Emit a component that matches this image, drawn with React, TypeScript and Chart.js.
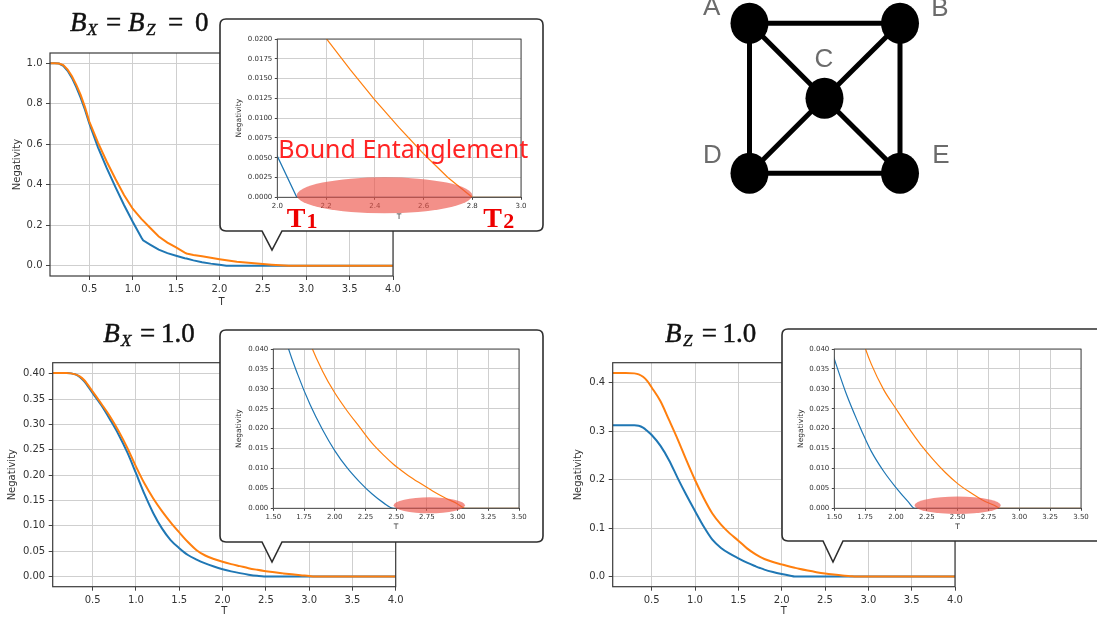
import React, { useEffect, useRef } from "react";
import { Chart, registerables } from "chart.js";

Chart.register(...registerables);

// ---------------- data ----------------
// Panel 1: B_X = B_Z = 0
const T_P1 = [0.05, 0.1, 0.15, 0.2, 0.25, 0.3, 0.35, 0.4, 0.45, 0.5, 0.6, 0.7, 0.8, 0.9, 1.0, 1.1, 1.12, 1.2, 1.3, 1.4, 1.5, 1.6, 1.62, 1.7, 1.8, 1.9, 2.0, 2.08, 2.1, 2.2, 2.3, 2.4, 2.5, 2.6, 2.7, 2.8, 2.9, 3.0, 3.5, 4.0];
const BLUE_P1 = [1.0, 1.0, 0.998, 0.987, 0.962, 0.927, 0.882, 0.83, 0.77, 0.702, 0.585, 0.483, 0.39, 0.3, 0.218, 0.14, 0.126, 0.105, 0.08, 0.063, 0.05, 0.038, 0.036, 0.027, 0.018, 0.011, 0.0052, 0, 0, 0, 0, 0, 0, 0, 0, 0, 0, 0, 0, 0];
const ORANGE_P1 = [1.0, 1.0, 0.998, 0.99, 0.968, 0.935, 0.893, 0.843, 0.783, 0.712, 0.608, 0.515, 0.43, 0.35, 0.282, 0.232, 0.223, 0.188, 0.145, 0.115, 0.091, 0.065, 0.061, 0.054, 0.047, 0.04, 0.033, 0.0278, 0.0265, 0.0201, 0.0161, 0.0123, 0.0088, 0.0055, 0.0025, 0, 0, 0, 0, 0];

// Panel 2: B_X = 1.0
const T_P2 = [0.04, 0.1, 0.2, 0.3, 0.35, 0.4, 0.5, 0.6, 0.7, 0.8, 0.9, 1.0, 1.1, 1.2, 1.3, 1.4, 1.5, 1.6, 1.7, 1.8, 1.9, 2.0, 2.1, 2.2, 2.3, 2.4, 2.48, 2.5, 2.6, 2.7, 2.8, 2.9, 3.0, 3.06, 3.2, 3.5, 4.0];
const BLUE_P2 = [0.402, 0.402, 0.402, 0.399, 0.394, 0.386, 0.362, 0.338, 0.31, 0.28, 0.245, 0.204, 0.162, 0.125, 0.095, 0.072, 0.056, 0.0425, 0.0335, 0.026, 0.0198, 0.0145, 0.0102, 0.0067, 0.0037, 0.0013, 0, 0, 0, 0, 0, 0, 0, 0, 0, 0, 0];
const ORANGE_P2 = [0.402, 0.402, 0.402, 0.399, 0.395, 0.388, 0.365, 0.341, 0.316, 0.287, 0.254, 0.217, 0.183, 0.154, 0.129, 0.107, 0.087, 0.068, 0.052, 0.0415, 0.0345, 0.029, 0.0245, 0.0205, 0.0165, 0.0133, 0.011, 0.0105, 0.0082, 0.0062, 0.0043, 0.0026, 0.0011, 0, 0, 0, 0];

// Panel 3: B_Z = 1.0
const T_P3 = [0.05, 0.1, 0.2, 0.3, 0.35, 0.4, 0.45, 0.5, 0.6, 0.7, 0.8, 0.9, 1.0, 1.1, 1.2, 1.3, 1.4, 1.5, 1.6, 1.7, 1.75, 1.8, 1.9, 2.0, 2.1, 2.15, 2.2, 2.3, 2.4, 2.5, 2.6, 2.7, 2.8, 2.85, 3.0, 3.5, 4.0];
const BLUE_P3 = [0.312, 0.312, 0.312, 0.312, 0.311, 0.307, 0.3, 0.292, 0.27, 0.24, 0.203, 0.168, 0.135, 0.103, 0.076, 0.059, 0.047, 0.0375, 0.0285, 0.021, 0.0175, 0.0143, 0.0093, 0.0052, 0.0016, 0, 0, 0, 0, 0, 0, 0, 0, 0, 0, 0, 0];
const ORANGE_P3 = [0.42, 0.42, 0.42, 0.419, 0.417, 0.412, 0.403, 0.39, 0.362, 0.323, 0.283, 0.24, 0.199, 0.162, 0.13, 0.107, 0.089, 0.074, 0.058, 0.0455, 0.0403, 0.0362, 0.0298, 0.025, 0.0203, 0.0181, 0.016, 0.0123, 0.009, 0.0062, 0.004, 0.0021, 0.0007, 0, 0, 0, 0];

// ticks
const MAIN_X_TICKS = [0.5, 1.0, 1.5, 2.0, 2.5, 3.0, 3.5, 4.0];
const P1_Y_TICKS = [0, 0.2, 0.4, 0.6, 0.8, 1.0];
const P2_Y_TICKS = [0, 0.05, 0.1, 0.15, 0.2, 0.25, 0.3, 0.35, 0.4];
const P3_Y_TICKS = [0, 0.1, 0.2, 0.3, 0.4];
const INSET1_X_TICKS = [2.0, 2.2, 2.4, 2.6, 2.8, 3.0];
const INSET1_Y_TICKS = [0, 0.0025, 0.005, 0.0075, 0.01, 0.0125, 0.015, 0.0175, 0.02];
const INSET23_X_TICKS = [1.5, 1.75, 2.0, 2.25, 2.5, 2.75, 3.0, 3.25, 3.5];
const INSET23_Y_TICKS = [0, 0.005, 0.01, 0.015, 0.02, 0.025, 0.03, 0.035, 0.04];

// bound entanglement range (T1 -> T2) per panel
const T1_VALUES = [2.08, 2.48, 2.15];
const T2_VALUES = [2.8, 3.06, 2.85];

const BLUE = "#1f77b4";
const ORANGE = "#ff7f0e";
const TEXT = "#333333";
const GRID = "#cfcfcf";

type Spec = {
  canvas: { left: number; top: number; width: number; height: number };
  area: { l: number; t: number; r: number; b: number };
  T: number[];
  blue: number[];
  orange: number[];
  xMin: number; xMax: number; yMin: number; yMax: number;
  xTicks: number[]; yTicks: number[]; xDec: number; yDec: number;
  tickSize: number; titleSize: number;
  yTitlePad: number; xTitlePad: number;
  tickLen: number; tickPad: number; lw: number; mono: boolean;
  ellipse?: { t1: number; t2: number; ry: number; dy: number };
};

const framePlugin = (w: number) => ({
  id: "frame",
  afterDatasetsDraw(chart: any) {
    const { ctx, chartArea } = chart;
    ctx.save();
    ctx.strokeStyle = "#3a3a3a";
    ctx.lineWidth = w;
    ctx.strokeRect(chartArea.left, chartArea.top, chartArea.right - chartArea.left, chartArea.bottom - chartArea.top);
    ctx.restore();
  },
});

const ellipsePlugin = (e: { t1: number; t2: number; ry: number; dy: number }) => ({
  id: "bound",
  afterDraw(chart: any) {
    const { ctx } = chart;
    const xs = chart.scales.x;
    const ys = chart.scales.y;
    const x1 = xs.getPixelForValue(e.t1);
    const x2 = xs.getPixelForValue(e.t2);
    const cy = ys.getPixelForValue(0) + e.dy;
    ctx.save();
    ctx.beginPath();
    ctx.ellipse((x1 + x2) / 2, cy, (x2 - x1) / 2, e.ry, 0, 0, Math.PI * 2);
    ctx.fillStyle = "rgba(236, 82, 70, 0.64)";
    ctx.fill();
    ctx.restore();
  },
});

function Panel({ spec }: { spec: Spec }) {
  const ref = useRef<HTMLCanvasElement>(null);
  const c = spec.canvas;
  useEffect(() => {
    const s = spec;
    const yW = s.area.l - c.left;
    const xH = c.top + c.height - s.area.b;
    const font = (size: number) => ({ family: "'DejaVu Sans', sans-serif", size, lineHeight: 1.2 });
    const plugins: any[] = [framePlugin(s.lw > 1.5 ? 1.2 : 0.9)];
    if (s.ellipse) plugins.push(ellipsePlugin(s.ellipse));
    const mk = (vals: number[], color: string) => ({
      data: s.T.map((t, i) => ({ x: t, y: vals[i] })),
      borderColor: color,
      backgroundColor: color,
      borderWidth: s.lw,
      pointRadius: 0,
      fill: false,
      tension: 0,
      cubicInterpolationMode: s.mono ? "monotone" : "default",
    });
    const chart = new Chart(ref.current as HTMLCanvasElement, {
      type: "line",
      data: { datasets: [mk(s.orange, ORANGE), mk(s.blue, BLUE)] as any },
      options: {
        responsive: false,
        animation: false,
        events: [],
        layout: { padding: { left: 0, top: s.area.t - c.top, right: c.left + c.width - s.area.r, bottom: 0 } },
        plugins: { legend: { display: false }, tooltip: { enabled: false } },
        scales: {
          x: {
            type: "linear",
            position: "bottom",
            min: s.xMin,
            max: s.xMax,
            afterBuildTicks: (sc: any) => { sc.ticks = s.xTicks.map((v) => ({ value: v })); },
            afterFit: (sc: any) => { sc.height = xH; },
            ticks: {
              autoSkip: false,
              maxRotation: 0,
              font: font(s.tickSize),
              color: TEXT,
              padding: s.tickPad,
              callback: (v: any) => Number(v).toFixed(s.xDec),
            },
            grid: { color: GRID, lineWidth: 1, tickLength: s.tickLen, tickColor: "#444", drawTicks: true },
            border: { display: false },
            title: { display: true, text: "T", font: font(s.titleSize), color: TEXT, padding: { top: 0, bottom: s.xTitlePad } },
          },
          y: {
            type: "linear",
            position: "left",
            min: s.yMin,
            max: s.yMax,
            afterBuildTicks: (sc: any) => { sc.ticks = s.yTicks.map((v) => ({ value: v })); },
            afterFit: (sc: any) => { sc.width = yW; },
            ticks: {
              autoSkip: false,
              font: font(s.tickSize),
              color: TEXT,
              padding: s.tickPad,
              callback: (v: any) => Number(v).toFixed(s.yDec),
            },
            grid: { color: GRID, lineWidth: 1, tickLength: s.tickLen, tickColor: "#444", drawTicks: true },
            border: { display: false },
            title: { display: true, text: "Negativity", font: font(s.titleSize), color: TEXT, padding: { top: s.yTitlePad, bottom: 0 } },
          },
        },
      } as any,
      plugins,
    });
    return () => chart.destroy();
  }, []);
  return (
    <canvas
      ref={ref}
      width={c.width}
      height={c.height}
      style={{ position: "absolute", left: c.left, top: c.top, width: c.width, height: c.height }}
    />
  );
}

const MAIN_COMMON = { xTicks: MAIN_X_TICKS, xDec: 1, xMax: 4.0, tickSize: 10, titleSize: 10, tickLen: 4, tickPad: 3.5, lw: 2, xTitlePad: 0.3 };
const INSET_COMMON = { tickSize: 7, titleSize: 7.5, tickLen: 2.5, tickPad: 2.5, lw: 1.2 };

const MAIN1: Spec = {
  ...MAIN_COMMON,
  canvas: { left: 0, top: 40, width: 420, height: 275 },
  area: { l: 50, t: 53, r: 393, b: 276 },
  T: T_P1, blue: BLUE_P1, orange: ORANGE_P1,
  xMin: 0.047, yMin: -0.05, yMax: 1.05,
  yTicks: P1_Y_TICKS, yDec: 1,
  yTitlePad: 11, xTitlePad: 6.3, mono: false,
};
const MAIN2: Spec = {
  ...MAIN_COMMON,
  canvas: { left: 0, top: 345, width: 420, height: 273 },
  area: { l: 52.7, t: 362.7, r: 395.7, b: 586.7 },
  T: T_P2, blue: BLUE_P2, orange: ORANGE_P2,
  xMin: 0.038, yMin: -0.0201, yMax: 0.4221,
  yTicks: P2_Y_TICKS, yDec: 2,
  yTitlePad: 6, mono: true,
};
const MAIN3: Spec = {
  ...MAIN_COMMON,
  canvas: { left: 560, top: 345, width: 420, height: 273 },
  area: { l: 612.7, t: 362.7, r: 955, b: 586.7 },
  T: T_P3, blue: BLUE_P3, orange: ORANGE_P3,
  xMin: 0.05, yMin: -0.021, yMax: 0.441,
  yTicks: P3_Y_TICKS, yDec: 1,
  yTitlePad: 12, mono: true,
};
const INSET1: Spec = {
  ...INSET_COMMON,
  canvas: { left: 225, top: 24, width: 315, height: 200 },
  area: { l: 277.3, t: 39, r: 521, b: 197.3 },
  T: T_P1, blue: BLUE_P1, orange: ORANGE_P1,
  xMin: 2.0, xMax: 3.0, yMin: 0, yMax: 0.02,
  xTicks: INSET1_X_TICKS, yTicks: INSET1_Y_TICKS, xDec: 1, yDec: 4,
  yTitlePad: 9.5, xTitlePad: 2.5, mono: false,
  ellipse: { t1: T1_VALUES[0], t2: T2_VALUES[0], ry: 18, dy: -2 },
};
const INSET2: Spec = {
  ...INSET_COMMON,
  canvas: { left: 225, top: 335, width: 315, height: 200 },
  area: { l: 273.3, t: 349, r: 519, b: 508.3 },
  T: T_P2, blue: BLUE_P2, orange: ORANGE_P2,
  xMin: 1.5, xMax: 3.5, yMin: 0, yMax: 0.04,
  xTicks: INSET23_X_TICKS, yTicks: INSET23_Y_TICKS, xDec: 2, yDec: 3,
  yTitlePad: 9.5, xTitlePad: 3.8, mono: true,
  ellipse: { t1: T1_VALUES[1], t2: T2_VALUES[1], ry: 8, dy: -3 },
};
const INSET3: Spec = {
  ...INSET_COMMON,
  canvas: { left: 786, top: 335, width: 311, height: 200 },
  area: { l: 834.3, t: 349, r: 1081, b: 508.3 },
  T: T_P3, blue: BLUE_P3, orange: ORANGE_P3,
  xMin: 1.5, xMax: 3.5, yMin: 0, yMax: 0.04,
  xTicks: INSET23_X_TICKS, yTicks: INSET23_Y_TICKS, xDec: 2, yDec: 3,
  yTitlePad: 10.2, xTitlePad: 3.8, mono: true,
  ellipse: { t1: T1_VALUES[2], t2: T2_VALUES[2], ry: 8.7, dy: -3 },
};

const calloutPath = (l: number, t: number, r: number, b: number, n1: number, n2: number, tx: number, ty: number, rad = 6) =>
  `M ${l + rad} ${t} H ${r - rad} Q ${r} ${t} ${r} ${t + rad} V ${b - rad} Q ${r} ${b} ${r - rad} ${b} H ${n2} L ${tx} ${ty} L ${n1} ${b} H ${l + rad} Q ${l} ${b} ${l} ${b - rad} V ${t + rad} Q ${l} ${t} ${l + rad} ${t} Z`;

const NODES: Record<string, [number, number]> = {
  A: [749.5, 23.3],
  B: [900, 23.3],
  C: [824.5, 98.3],
  D: [749.5, 173.3],
  E: [900, 173.3],
};
const EDGES: [string, string][] = [["A", "B"], ["A", "D"], ["B", "E"], ["D", "E"], ["A", "C"], ["B", "C"], ["D", "C"], ["E", "C"]];
const NODE_LABELS: [string, number, number][] = [["A", 711.7, 15], ["B", 940, 15.7], ["C", 824, 66.7], ["D", 712.5, 163.3], ["E", 940.8, 163.3]];

const SERIF = "'Liberation Serif', 'DejaVu Serif', serif";

export default function App() {
  useEffect(() => {
    document.body.style.margin = "0";
    document.body.style.overflow = "hidden";
  }, []);
  const full: React.CSSProperties = { position: "absolute", left: 0, top: 0, width: 1097, height: 618, pointerEvents: "none" };
  return (
    <div style={{ position: "absolute", left: 0, top: 0, width: 1097, height: 618, overflow: "hidden", background: "#ffffff" }}>
      <Panel spec={MAIN1} />
      <Panel spec={MAIN2} />
      <Panel spec={MAIN3} />
      <svg style={full} width={1097} height={618}>
        <path d={calloutPath(220, 19, 543, 231, 262, 282, 272, 250)} fill="#fff" stroke="#2e2e2e" strokeWidth={1.6} />
        <path d={calloutPath(220, 330, 543, 542, 262, 282, 272, 562)} fill="#fff" stroke="#2e2e2e" strokeWidth={1.6} />
        <path d={calloutPath(782, 329, 1110, 541, 823, 843, 833, 562)} fill="#fff" stroke="#2e2e2e" strokeWidth={1.6} />
        {/* titles */}
        <text fontFamily={SERIF} fill="#111" stroke="#111" strokeWidth={0.45} fontSize={27}>
          <tspan x={70} y={30.7} fontStyle="italic">B</tspan>
          <tspan x={87} y={35} fontSize={17} fontStyle="italic">X</tspan>
          <tspan x={106} y={30.7}>=</tspan>
          <tspan x={128} y={30.7} fontStyle="italic">B</tspan>
          <tspan x={146} y={35} fontSize={17} fontStyle="italic">Z</tspan>
          <tspan x={168} y={30.7}>=</tspan>
          <tspan x={195} y={30.7}>0</tspan>
        </text>
        <text fontFamily={SERIF} fill="#111" stroke="#111" strokeWidth={0.45} fontSize={27}>
          <tspan x={103.3} y={341.7} fontStyle="italic">B</tspan>
          <tspan x={121} y={346} fontSize={17} fontStyle="italic">X</tspan>
          <tspan x={140} y={341.7}>=</tspan>
          <tspan x={161} y={341.7}>1.0</tspan>
        </text>
        <text fontFamily={SERIF} fill="#111" stroke="#111" strokeWidth={0.45} fontSize={27}>
          <tspan x={665} y={341.7} fontStyle="italic">B</tspan>
          <tspan x={683} y={346} fontSize={17} fontStyle="italic">Z</tspan>
          <tspan x={701.7} y={341.7}>=</tspan>
          <tspan x={722.5} y={341.7}>1.0</tspan>
        </text>
        {/* graph diagram */}
        {EDGES.map(([a, b], i) => (
          <line key={i} x1={NODES[a][0]} y1={NODES[a][1]} x2={NODES[b][0]} y2={NODES[b][1]} stroke="#000" strokeWidth={5} />
        ))}
        {Object.keys(NODES).map((k) => (
          <ellipse key={k} cx={NODES[k][0]} cy={NODES[k][1]} rx={19} ry={20.5} fill="#000" />
        ))}
        {NODE_LABELS.map(([n, x, y]) => (
          <text key={n} x={x} y={y} textAnchor="middle" fontFamily="'Liberation Sans', Arial, sans-serif" fontSize={26} fill="#6b6b6b">
            {n}
          </text>
        ))}
      </svg>
      <Panel spec={INSET1} />
      <Panel spec={INSET2} />
      <Panel spec={INSET3} />
      <svg style={full} width={1097} height={618}>
        <text x={278.3} y={158.3} fontFamily="'Noto Sans', sans-serif" fontSize={25} fill="#ff2424">
          Bound Entanglement
        </text>
        <text fontFamily={SERIF} fontWeight="bold" fill="#ee0000" fontSize={28}>
          <tspan x={286.7} y={226.7}>T</tspan>
          <tspan x={306.5} y={228.3} fontSize={22}>1</tspan>
        </text>
        <text fontFamily={SERIF} fontWeight="bold" fill="#ee0000" fontSize={28}>
          <tspan x={483.3} y={226.7}>T</tspan>
          <tspan x={503.3} y={228.3} fontSize={22}>2</tspan>
        </text>
      </svg>
    </div>
  );
}
